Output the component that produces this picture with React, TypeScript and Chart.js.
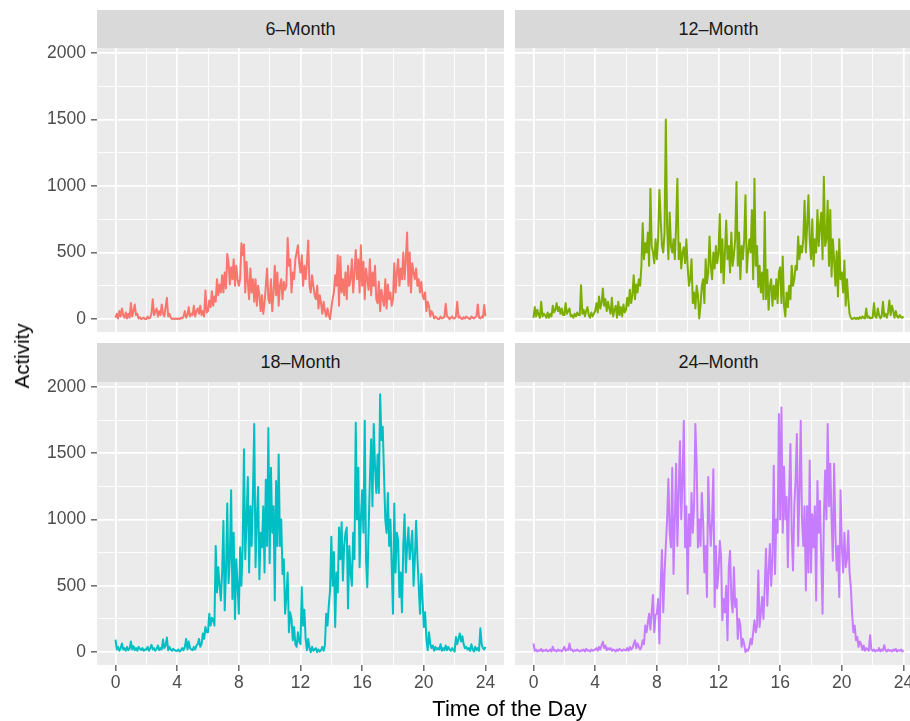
import React, { useEffect, useRef } from "react";
import { Chart, registerables } from "chart.js";

Chart.register(...registerables);

// ---------- data ----------
const SAMPLES_PER_HOUR = 12; // one reading every 5 minutes, 0..24 h
const X_MAJOR = [0, 4, 8, 12, 16, 20, 24];
const X_MINOR = [2, 6, 10, 14, 18, 22];
const Y_MAJOR = [0, 500, 1000, 1500, 2000];
const Y_MINOR = [250, 750, 1250, 1750];
const X_RANGE = [-1.2, 25.2];
const Y_RANGE = [-97, 2037];

const PANEL_LABELS = ["6–Month", "12–Month", "18–Month", "24–Month"];
const PANEL_COLORS = ["#F8766D", "#7CAE00", "#00BFC4", "#C77CFF"];

// one row per hour, 12 readings each
const month6 = [
  10, 40, 5, 60, 20, 80, 30, 10, 50, 5, 40, 10,
  120, 20, 60, 110, 30, 40, 5, 15, 0, 5, 10, 0,
  0, 20, 5, 10, 40, 150, 30, 60, 80, 20, 60, 30,
  110, 40, 20, 90, 160, 20, 40, 10, 0, 5, 0, 5,
  0, 5, 0, 10, 5, 20, 60, 10, 30, 90, 20, 40,
  30, 100, 20, 60, 80, 40, 100, 30, 60, 20, 215, 50,
  60, 140, 90, 210, 100, 170, 130, 300, 180, 260, 200, 330,
  200, 350, 230, 490, 420, 260, 390, 300, 450, 250, 400, 300,
  250, 300, 570, 480, 560, 200, 430, 280, 150, 380, 200, 300,
  130, 300, 100, 250, 180, 60, 180, 40, 120, 250, 380, 150,
  120, 300, 60, 200, 400, 180, 350, 100, 250, 300, 150, 280,
  220, 250, 610, 400, 450, 200, 350, 300, 450, 500, 555, 420,
  350, 480, 250, 400, 300, 420, 590, 250, 200, 330, 250, 180,
  150, 250, 80, 180, 120, 40, 130, 60, 20, 80, 30, 0,
  80, 150, 200, 330, 250, 480, 100, 470, 200, 300, 180, 350,
  150, 400, 250, 300, 450, 200, 350, 520, 300, 450, 200, 555,
  250, 430, 150, 380, 300, 220, 450, 180, 350, 250, 400, 150,
  120, 280, 60, 220, 150, 100, 300, 80, 260, 150, 200, 100,
  150, 420, 200, 350, 450, 250, 380, 300, 500, 300, 450, 650,
  250, 500, 200, 420, 350, 300, 380, 250, 300, 200, 280, 180,
  150, 200, 60, 130, 100, 20, 60, 40, 5, 20, 10, 0,
  0, 20, 5, 10, 15, 115, 20, 15, 0, 10, 20, 5,
  5, 20, 130, 10, 20, 5, 0, 15, 5, 20, 10, 5,
  0, 20, 10, 5, 15, 20, 110, 10, 5, 20, 10, 105,
  20,
];

const month12 = [
  10, 90, 20, 70, 30, 10, 130, 20, 40, 30, 10, 50,
  10, 40, 20, 100, 50, 70, 120, 60, 90, 40, 80, 30,
  30, 120, 40, 60, 80, 20, 30, 10, 40, 20, 50, 30,
  30, 255, 40, 70, 20, 60, 90, 30, 10, 50, 20, 40,
  60, 120, 50, 170, 80, 120, 230, 100, 150, 60, 130, 80,
  40, 160, 20, 70, 100, 10, 130, 30, 90, 20, 110, 50,
  70, 160, 100, 220, 120, 180, 330, 150, 260, 200, 300, 250,
  400, 720, 450, 570, 500, 650, 400, 980, 550, 500, 420, 600,
  450, 600, 970, 750, 550, 500, 650, 1500, 700, 450, 800, 550,
  500, 600, 450, 700, 1055, 450, 570, 380, 500, 540, 420, 600,
  390, 250, 300, 450, 120, 200, 80, 250, 180, 5, 100, 250,
  300, 120, 450, 270, 350, 620, 400, 300, 500, 380, 550, 420,
  500, 790, 350, 600, 270, 500, 740, 450, 550, 350, 650, 400,
  480, 600, 1030, 400, 650, 300, 550, 450, 600, 930, 350, 500,
  600, 500, 820, 300, 1055, 400, 550, 240, 400, 200, 350, 150,
  805, 150, 370, 70, 250, 300, 100, 250, 150, 300, 120, 350,
  390, 120, 470, 100, 20, 200, 90, 250, 150, 400, 250, 300,
  400, 370, 620, 450, 550, 500, 600, 890, 500, 700, 930, 600,
  450, 750, 400, 600, 500, 820, 550, 700, 800, 450, 1070, 550,
  600, 890, 400, 820, 320, 600, 450, 250, 510, 170, 600, 300,
  350, 200, 440, 100, 300, 150, 40, 10, 0, 5, 10, 0,
  10, 0, 15, 5, 20, 10, 5, 80, 10, 20, 5, 10,
  10, 120, 20, 10, 80, 30, 5, 20, 130, 20, 40, 10,
  50, 140, 30, 100, 60, 10, 60, 20, 10, 30, 15, 10,
  20,
];

const month18 = [
  95, 20, 40, 10, 30, 65, 20, 30, 10, 40, 15, 25,
  80, 20, 45, 15, 30, 10, 40, 25, 15, 30, 10, 20,
  20, 40, 10, 30, 55, 20, 30, 10, 25, 50, 15, 30,
  20, 95, 30, 50, 110, 15, 40, 20, 10, 25, 15, 10,
  10, 20, 5, 15, 30, 15, 40, 100, 20, 80, 30, 20,
  15, 40, 20, 50, 60, 100, 40, 60, 140, 100, 190, 150,
  150, 290, 200, 260, 240, 200, 800, 450, 640, 500, 390, 600,
  990, 315, 600, 1120, 520, 700, 1220, 400, 900, 250, 700, 500,
  290, 790, 500, 800, 1530, 700, 1000, 1320, 600, 1100, 800, 1200,
  1720, 640, 1000, 1245, 550, 900, 790, 1100, 600, 1300, 800, 1690,
  670, 1390, 900, 1100, 390, 1290, 800, 1490, 800, 1000, 590, 700,
  290, 420, 600, 150, 300, 250, 90, 190, 60, 40, 150, 80,
  60, 490, 200, 320, 100, 15, 100, 30, 0, 40, 10, 20,
  30, 0, 20, 5, 15, 40, 10, 50, 290, 200, 350, 465,
  870, 500, 755, 190, 600, 450, 940, 700, 980, 540, 800, 900,
  940, 330, 800, 600, 500, 900, 700, 1730, 1000, 1390, 640, 1000,
  1220, 900, 1745, 700, 490, 920, 1300, 1605, 1100, 1720, 1400, 1200,
  1490, 1200, 1945, 1600, 1700, 1340, 1000, 900, 1200, 800, 1000, 640,
  290, 1120, 600, 900, 840, 415, 600, 300, 800, 1040, 600, 800,
  940, 700, 800, 915, 500, 700, 990, 715, 500, 290, 590, 400,
  190, 300, 100, 15, 150, 60, 30, 50, 10, 40, 20, 30,
  20, 60, 10, 30, 15, 50, 15, 40, 20, 10, 30, 15,
  5, 115, 60, 100, 140, 80, 120, 60, 30, 40, 20, 30,
  10, 60, 20, 5, 40, 15, 30, 10, 180, 60, 30, 20,
  40,
];

const month24 = [
  65, 10, 20, 5, 15, 10, 25, 5, 15, 10, 20, 5,
  10, 20, 5, 40, 10, 15, 5, 20, 10, 15, 5, 20,
  40, 10, 20, 15, 65, 15, 20, 5, 15, 10, 20, 10,
  5, 15, 10, 20, 5, 25, 10, 15, 5, 20, 10, 15,
  20, 30, 10, 40, 20, 50, 78, 30, 50, 15, 30, 20,
  30, 10, 20, 15, 5, 20, 10, 25, 15, 10, 20, 15,
  15, 30, 10, 40, 20, 30, 60, 90, 30, 65, 40, 20,
  40, 90, 60, 200, 150, 220, 290, 170, 300, 430, 150, 280,
  290, 400, 65, 500, 770, 300, 590, 800, 1000, 1305, 900, 790,
  1390, 590, 1000, 1420, 800, 1200, 1590, 1000, 1300, 1745, 790, 1100,
  440, 1040, 800, 1200, 900, 1100, 1720, 1420, 790, 1000, 800, 1200,
  990, 600, 800, 415, 1320, 1000, 800, 1000, 1380, 340, 800, 480,
  600, 840, 715, 240, 400, 300, 500, 90, 640, 765, 400, 300,
  640, 340, 400, 100, 250, 200, 40, 100, 60, 0, 20, 10,
  40, 100, 60, 150, 240, 150, 200, 615, 190, 300, 415, 250,
  500, 780, 350, 600, 815, 500, 700, 1405, 590, 1000, 900, 1795,
  1000, 1845, 900, 1400, 1000, 1170, 640, 1200, 1570, 900, 615, 1100,
  1300, 1645, 800, 1200, 1745, 1000, 800, 1100, 465, 1100, 600, 1445,
  600, 1040, 790, 1100, 390, 1290, 900, 1140, 700, 290, 1000, 1370,
  1000, 1720, 1100, 1420, 1000, 690, 1420, 900, 615, 800, 415, 1220,
  800, 600, 900, 640, 700, 915, 600, 490, 290, 150, 200, 90,
  115, 40, 80, 60, 15, 50, 10, 30, 20, 10, 128, 20,
  10, 20, 5, 15, 10, 30, 5, 20, 10, 53, 15, 5,
  20, 10, 15, 5, 20, 10, 25, 5, 15, 10, 20, 5,
  15,
];

const SERIES = [month6, month12, month18, month24];

// ---------- layout ----------
const FONT = "'Liberation Sans', Arial, Helvetica, sans-serif";
const PAD = 20;
const PANEL_W = 407;
const LEFT_PANEL_X = 97;
const RIGHT_PANEL_X = 515;
const TOP_AREA = [48, 332];
const BOTTOM_AREA = [382, 665];
const X_AXIS_H = 36;
const TICK_FONT = 17.5;

type PanelGeom = {
  left: number;
  top: number;
  width: number;
  height: number;
  showY: boolean;
  showX: boolean;
};

const GEOMS: PanelGeom[] = [
  { left: 0, top: TOP_AREA[0] - PAD, width: LEFT_PANEL_X + PANEL_W, height: PAD + (TOP_AREA[1] - TOP_AREA[0]) + PAD, showY: true, showX: false },
  { left: RIGHT_PANEL_X, top: TOP_AREA[0] - PAD, width: PANEL_W, height: PAD + (TOP_AREA[1] - TOP_AREA[0]) + PAD, showY: false, showX: false },
  { left: 0, top: BOTTOM_AREA[0] - PAD, width: LEFT_PANEL_X + PANEL_W, height: PAD + (BOTTOM_AREA[1] - BOTTOM_AREA[0]) + X_AXIS_H, showY: true, showX: true },
  { left: RIGHT_PANEL_X, top: BOTTOM_AREA[0] - PAD, width: PANEL_W, height: PAD + (BOTTOM_AREA[1] - BOTTOM_AREA[0]) + X_AXIS_H, showY: false, showX: true },
];

const STRIPS = [
  { left: LEFT_PANEL_X, top: 9.5, height: TOP_AREA[0] - 9.5 },
  { left: RIGHT_PANEL_X, top: 9.5, height: TOP_AREA[0] - 9.5 },
  { left: LEFT_PANEL_X, top: 343, height: BOTTOM_AREA[0] - 343 },
  { left: RIGHT_PANEL_X, top: 343, height: BOTTOM_AREA[0] - 343 },
];

const panelBg = {
  id: "panelBg",
  beforeDraw(chart: any) {
    const { ctx, chartArea } = chart;
    ctx.save();
    ctx.fillStyle = "#EBEBEB";
    ctx.fillRect(chartArea.left, chartArea.top, chartArea.right - chartArea.left, chartArea.bottom - chartArea.top);
    ctx.restore();
  },
};

function makeConfig(values: number[], color: string, g: PanelGeom): any {
  const points = values.map((v, i) => ({ x: i / SAMPLES_PER_HOUR, y: v }));
  const xAll = [...X_MAJOR, ...X_MINOR].sort((a, b) => a - b);
  const yAll = [...Y_MAJOR, ...Y_MINOR].sort((a, b) => a - b);
  return {
    type: "line",
    data: {
      datasets: [
        {
          data: points,
          borderColor: color,
          borderWidth: 2,
          pointRadius: 0,
          tension: 0,
          fill: false,
          borderJoinStyle: "round",
        },
      ],
    },
    plugins: [panelBg],
    options: {
      animation: false,
      responsive: false,
      maintainAspectRatio: false,
      events: [],
      layout: { padding: { top: PAD, bottom: g.showX ? 0 : PAD, left: 0, right: 0 } },
      plugins: {
        legend: { display: false },
        tooltip: { enabled: false },
        title: { display: false },
      },
      scales: {
        x: {
          type: "linear",
          min: X_RANGE[0],
          max: X_RANGE[1],
          afterBuildTicks: (s: any) => {
            s.ticks = xAll.map((v) => ({ value: v }));
          },
          afterFit: (s: any) => {
            s.height = g.showX ? X_AXIS_H : 0;
          },
          border: { display: false },
          grid: {
            color: "#FFFFFF",
            lineWidth: (c: any) => (X_MAJOR.includes(c.tick?.value) ? 1.7 : 0.9),
            drawTicks: g.showX,
            tickLength: 6,
            tickWidth: 1.1,
            tickColor: (c: any) => (X_MAJOR.includes(c.tick?.value) ? "#333333" : "rgba(0,0,0,0)"),
          },
          ticks: {
            display: g.showX,
            autoSkip: false,
            maxRotation: 0,
            minRotation: 0,
            padding: 2,
            color: "#4D4D4D",
            font: { size: TICK_FONT, family: FONT },
            callback: (v: any) => (X_MAJOR.includes(v) ? String(v) : ""),
          },
        },
        y: {
          type: "linear",
          min: Y_RANGE[0],
          max: Y_RANGE[1],
          afterBuildTicks: (s: any) => {
            s.ticks = yAll.map((v) => ({ value: v }));
          },
          afterFit: (s: any) => {
            s.width = g.showY ? LEFT_PANEL_X : 0;
          },
          border: { display: false },
          grid: {
            color: "#FFFFFF",
            lineWidth: (c: any) => (Y_MAJOR.includes(c.tick?.value) ? 1.7 : 0.9),
            drawTicks: g.showY,
            tickLength: 6,
            tickWidth: 1.1,
            tickColor: (c: any) => (Y_MAJOR.includes(c.tick?.value) ? "#333333" : "rgba(0,0,0,0)"),
          },
          ticks: {
            display: g.showY,
            autoSkip: false,
            padding: 5,
            color: "#4D4D4D",
            font: { size: TICK_FONT, family: FONT },
            callback: (v: any) => (Y_MAJOR.includes(v) ? String(v) : ""),
          },
        },
      },
    },
  };
}

export default function App() {
  const refs = [useRef<HTMLCanvasElement>(null), useRef<HTMLCanvasElement>(null), useRef<HTMLCanvasElement>(null), useRef<HTMLCanvasElement>(null)];

  useEffect(() => {
    Chart.defaults.font.family = FONT;
    const charts = refs.map((r, i) => {
      const c = r.current!;
      return new Chart(c, makeConfig(SERIES[i], PANEL_COLORS[i], GEOMS[i]));
    });
    return () => charts.forEach((ch) => ch.destroy());
  }, []);

  return (
    <div
      style={{
        position: "absolute",
        left: 0,
        top: 0,
        width: 910,
        height: 721,
        overflow: "hidden",
        background: "#FFFFFF",
        fontFamily: FONT,
      }}
    >
      {STRIPS.map((s, i) => (
        <div
          key={"strip" + i}
          style={{
            position: "absolute",
            left: s.left,
            top: s.top,
            width: PANEL_W,
            height: s.height,
            background: "#D9D9D9",
            color: "#1A1A1A",
            fontSize: 18,
            lineHeight: s.height + "px",
            textAlign: "center",
            whiteSpace: "nowrap",
          }}
        >
          {PANEL_LABELS[i]}
        </div>
      ))}
      {GEOMS.map((g, i) => (
        <canvas
          key={"c" + i}
          ref={refs[i]}
          width={g.width}
          height={g.height}
          style={{ position: "absolute", left: g.left, top: g.top, width: g.width, height: g.height }}
        />
      ))}
      <div
        style={{
          position: "absolute",
          left: 22,
          top: 356,
          transform: "translate(-50%, -50%) rotate(-90deg)",
          fontSize: 20.5,
          color: "#000000",
          whiteSpace: "nowrap",
        }}
      >
        Activity
      </div>
      <div
        style={{
          position: "absolute",
          left: 509.5,
          top: 709,
          transform: "translate(-50%, -50%)",
          fontSize: 22,
          color: "#000000",
          whiteSpace: "nowrap",
        }}
      >
        Time of the Day
      </div>
    </div>
  );
}
